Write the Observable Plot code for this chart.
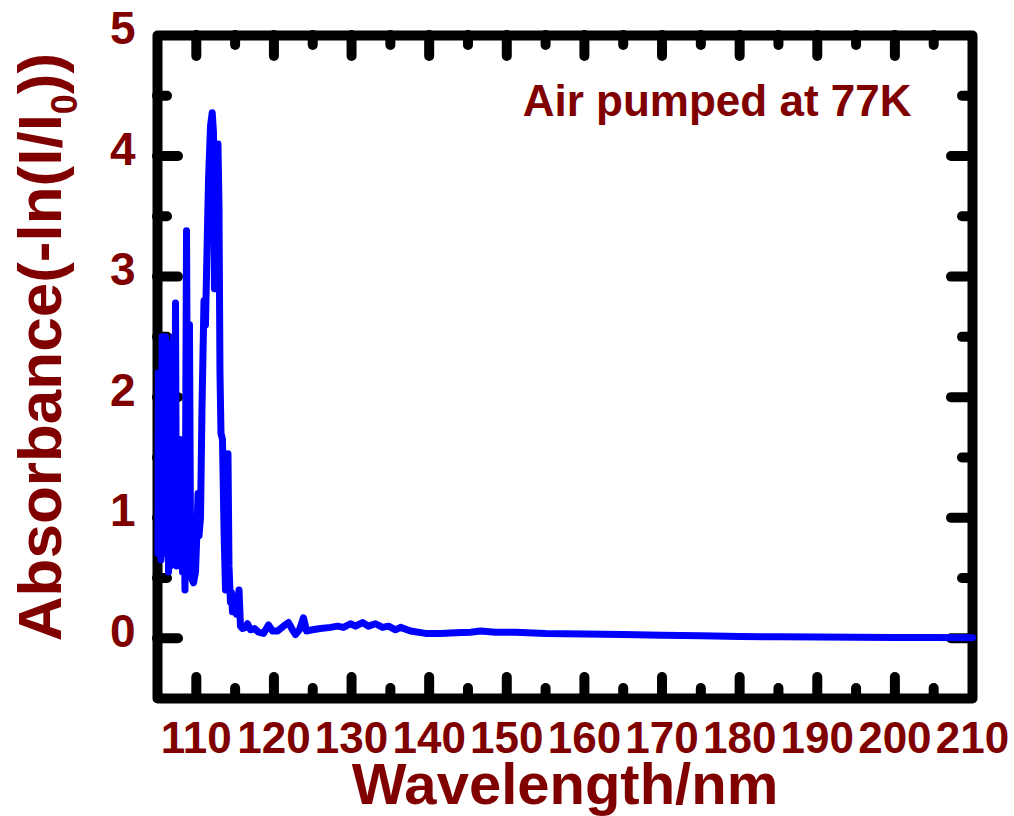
<!DOCTYPE html>
<html><head><meta charset="utf-8">
<script src="https://cdn.jsdelivr.net/npm/d3@7"></script>
<script src="https://cdn.jsdelivr.net/npm/@observablehq/plot@0.6"></script>
<style>body{margin:0;background:#fff;overflow:hidden} #chart{position:absolute;left:0;top:0}</style>
</head><body><div id="chart"></div>
<script>
const wavelength = [105.06, 105.11, 105.17, 105.31, 105.45, 105.58, 105.71, 105.77, 105.90, 106.03,
  106.16, 106.29, 106.42, 106.55, 106.67, 106.80, 106.93, 107.06, 107.19, 107.32,
  107.45, 107.58, 107.70, 107.83, 107.96, 108.09, 108.22, 108.41, 108.54, 108.74,
  108.87, 109.00, 109.12, 109.25, 109.38, 109.64, 109.90, 110.09, 110.22, 110.35,
  110.54, 110.73, 110.99, 111.18, 111.31, 111.57, 111.83, 112.05, 112.21, 112.34,
  112.54, 112.79, 112.92, 113.05, 113.18, 113.37, 113.57, 113.76, 113.95, 114.08,
  114.21, 114.40, 114.53, 114.66, 114.92, 115.18, 115.50, 115.69, 115.95, 116.34,
  116.60, 116.98, 117.50, 118.01, 118.66, 119.30, 119.82, 120.46, 121.23, 121.88,
  122.39, 122.78, 123.29, 123.81, 124.20, 124.97, 126.0, 127.29, 128.19, 128.96,
  129.86, 130.51, 131.41, 132.18, 133.09, 133.99, 134.76, 135.66, 136.31, 137.6,
  139.53, 141.46, 143.39, 145.32, 146.61, 148.55, 151.12, 155, 160, 165,
  170, 175, 180, 185, 190, 195, 200, 205, 210];
const absorbance = [0.7, 2.2, 0.9, 1.9, 0.65, 2.5, 1.0, 2.5, 0.8, 2.5,
  0.7, 2.45, 0.55, 2.4, 0.6, 2.4, 1.0, 2.5, 0.7, 2.78,
  0.6, 1.6, 0.7, 1.65, 0.65, 1.4, 0.55, 1.2, 0.4, 3.38,
  1.5, 1.0, 2.6, 0.9, 0.5, 0.46, 0.55, 0.9, 1.2, 0.85,
  1.0, 1.9, 2.8, 2.6, 3.0, 3.8, 4.25, 4.36, 4.2, 2.9,
  4.1, 4.1, 3.6, 2.2, 1.7, 1.65, 0.9, 0.4, 1.0, 1.53,
  0.6, 0.3, 0.38, 0.22, 0.3, 0.2, 0.4, 0.1, 0.08, 0.09,
  0.12, 0.07, 0.08, 0.05, 0.04, 0.11, 0.06, 0.06, 0.1, 0.13,
  0.07, 0.03, 0.07, 0.17, 0.06, 0.07, 0.08, 0.09, 0.1, 0.09,
  0.12, 0.1, 0.13, 0.1, 0.12, 0.09, 0.1, 0.07, 0.09, 0.06,
  0.04, 0.04, 0.045, 0.05, 0.06, 0.05, 0.05, 0.04, 0.035, 0.03,
  0.025, 0.02, 0.015, 0.012, 0.01, 0.008, 0.006, 0.006, 0.005];

const xTickLabels = [110, 120, 130, 140, 150, 160, 170, 180, 190, 200, 210];
const yTickLabels = [0, 1, 2, 3, 4, 5];
const xMajorTicks = [110, 120, 130, 140, 150, 160, 170, 180, 190, 200];
const xMinorTicks = [115, 125, 135, 145, 155, 165, 175, 185, 195, 205];
const yMajorTicks = [0, 1, 2, 3, 4];
const yMinorTicks = [0.5, 1.5, 2.5, 3.5, 4.5];
const xTitle = "Wavelength/nm";
const yTitle = "Absorbance(-ln(I/I0))";
const annotation = "Air pumped at 77K";

const data = wavelength.map((w, i) => ({w, a: absorbance[i]}));
const W = 1014, H = 816, mL = 157, mR = 42, mT = 35, mB = 118;
const plotH = H - mT - mB, plotW = W - mL - mR;
const red = "#800000";
const font = "'Liberation Sans', Arial, Helvetica, sans-serif";
const major = 21, minor = 10;
const tk = {stroke: "black", strokeWidth: 10, strokeLinecap: "round"};

const svg = Plot.plot({
  width: W, height: H,
  marginLeft: mL, marginRight: mR, marginTop: mT, marginBottom: mB,
  x: {domain: [105, 210]},
  y: {domain: [-0.5, 5]},
  style: {fontFamily: font, background: "white", overflow: "visible"},
  marks: [
    Plot.frame({stroke: "black", strokeWidth: 10, strokeLinejoin: "round"}),
    Plot.tickX(xMajorTicks, {x: d => d, insetTop: plotH - major, ...tk}),
    Plot.tickX(xMajorTicks, {x: d => d, insetBottom: plotH - major, ...tk}),
    Plot.tickX(xMinorTicks, {x: d => d, insetTop: plotH - minor, ...tk}),
    Plot.tickX(xMinorTicks, {x: d => d, insetBottom: plotH - minor, ...tk}),
    Plot.tickY(yMajorTicks, {y: d => d, insetRight: plotW - major, ...tk}),
    Plot.tickY(yMajorTicks, {y: d => d, insetLeft: plotW - major, ...tk}),
    Plot.tickY(yMinorTicks, {y: d => d, insetRight: plotW - minor, ...tk}),
    Plot.tickY(yMinorTicks, {y: d => d, insetLeft: plotW - minor, ...tk}),
    Plot.axisX({ticks: xTickLabels, tickSize: 0, tickPadding: 23, fontSize: 44, fontWeight: "bold",
      color: red, tickFormat: d => String(d), label: null}),
    Plot.axisY({ticks: yTickLabels, tickSize: 0, tickPadding: 22, dy: -6, fontSize: 46, fontWeight: "bold",
      color: red, tickFormat: d => String(d), label: null}),
    Plot.line(data, {x: "w", y: "a", stroke: "#0000ff", strokeWidth: 7,
      strokeLinejoin: "round", strokeLinecap: "round"}),
    Plot.text([xTitle], {text: d => d, frameAnchor: "bottom", dy: 105, lineAnchor: "bottom",
      fontSize: 58, fontWeight: "bold", fill: red}),
    Plot.text([yTitle], {text: d => d, frameAnchor: "left", rotate: -90, dx: -97, dy: -20,
      textAnchor: "middle", lineAnchor: "bottom", fontSize: 62, fontWeight: "bold", fill: red}),
    Plot.text([annotation], {text: d => d, frameAnchor: "top-right", textAnchor: "end",
      dx: -61, dy: 80, lineAnchor: "bottom", fontSize: 44, fontWeight: "bold", fill: red})
  ]
});

// subscript 0 in the y title
svg.querySelectorAll("text").forEach(t => {
  if (t.textContent === yTitle) {
    while (t.firstChild) t.removeChild(t.firstChild);
    const ns = "http://www.w3.org/2000/svg";
    t.appendChild(document.createTextNode("Absorbance(-ln(I/I"));
    const sub = document.createElementNS(ns, "tspan");
    sub.setAttribute("font-size", "36");
    sub.setAttribute("dy", "16");
    sub.textContent = "0";
    t.appendChild(sub);
    const rest = document.createElementNS(ns, "tspan");
    rest.setAttribute("dy", "-16");
    rest.textContent = "))";
    t.appendChild(rest);
  }
});

document.getElementById("chart").appendChild(svg);
</script>
</body></html>
